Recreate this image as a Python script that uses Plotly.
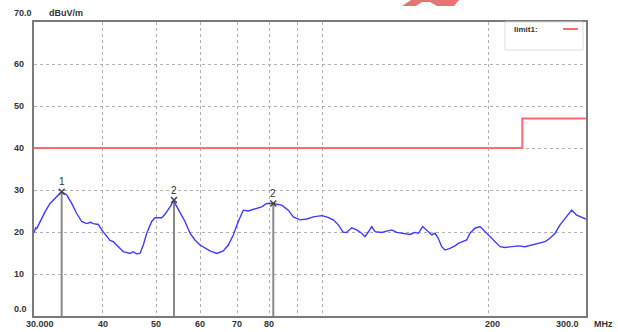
import math
import plotly.graph_objects as go

# ---------------- data ----------------
freq_mhz = [30.00, 30.20, 30.34, 30.76, 31.41, 32.07, 32.75, 33.67, 34.39, 35.11,
            35.85, 36.60, 37.37, 38.00, 38.42, 39.23, 39.79, 40.63, 41.20, 41.76,
            42.64, 43.54, 44.78, 45.40, 46.04, 46.68, 47.33, 48.01, 49.02, 49.70,
            51.11, 51.81, 52.91, 53.80, 54.02, 55.16, 56.32, 57.51, 58.72, 59.96,
            61.22, 62.51, 64.28, 66.08, 67.47, 68.89, 70.34, 71.83, 73.34, 75.42,
            77.56, 79.19, 81.40, 84.30, 86.66, 88.49, 90.99, 93.57, 96.19, 99.61,
            101.71, 104.55, 106.75, 109.01, 110.56, 112.89, 115.27, 117.70, 119.33, 120.98,
            122.71, 124.41, 127.94, 130.64, 133.39, 136.21, 140.01, 143.98, 147.01, 149.05,
            151.81, 154.36, 157.61, 159.80, 162.01, 164.33, 166.61, 170.12, 173.71, 176.12,
            178.63, 182.39, 184.92, 188.81, 192.79, 196.86, 201.01, 205.25, 209.57, 213.99,
            220.06, 226.20, 232.61, 239.20, 245.88, 252.85, 258.18, 263.62, 269.18, 274.85,
            282.65, 288.60, 294.69, 300.00]
level_dbuv = [19.8, 21.0, 20.8, 22.5, 24.8, 26.8, 28.0, 29.6, 28.8, 26.8,
              24.4, 22.5, 22.0, 22.3, 22.0, 21.8, 20.5, 18.9, 18.0, 17.7,
              16.5, 15.3, 14.9, 15.3, 14.8, 14.9, 16.9, 19.7, 22.5, 23.4,
              23.4, 24.2, 26.0, 27.6, 26.8, 24.8, 22.5, 19.7, 18.1, 16.9,
              16.1, 15.5, 14.9, 15.5, 16.9, 19.3, 22.5, 25.2, 25.0, 25.5,
              26.0, 26.8, 26.8, 26.4, 25.2, 23.6, 22.9, 23.1, 23.6, 23.9,
              23.6, 22.9, 21.7, 19.9, 19.9, 21.0, 20.5, 19.7, 18.9, 20.0,
              21.3, 20.1, 19.9, 20.2, 20.5, 19.9, 19.7, 19.4, 19.9, 19.7,
              21.3, 20.5, 19.3, 19.7, 18.5, 16.5, 15.7, 16.1, 16.7, 17.3,
              17.7, 18.1, 19.7, 20.9, 21.3, 20.1, 18.9, 17.7, 16.5, 16.3,
              16.5, 16.7, 16.5, 16.9, 17.3, 17.7, 18.5, 19.7, 21.7, 23.3,
              25.2, 24.0, 23.6, 23.1]

limit_freq = [30, 230, 230, 300]
limit_level = [40, 40, 47, 47]

marker_freq = [33.67, 53.80, 81.40]
marker_level = [29.6, 27.6, 26.8]
marker_labels = ["1", "2", "2"]

x_grid_vals = [40, 50, 60, 70, 80, 90, 100, 200]
x_label_vals = [30, 40, 50, 60, 70, 80, 200, 300]
x_label_text = ["30.000", "40", "50", "60", "70", "80", "200", "300.0"]
y_label_vals = [0, 10, 20, 30, 40, 50, 60, 70]
y_label_text = ["0.0", "10", "20", "30", "40", "50", "60", "70.0"]

# ---------------- layout geometry ----------------
W, H = 618, 332
L, R, T, B = 34, 32, 22, 16
PW, PH = W - L - R, H - T - B


def px2paper(px, py):
    return (px - L) / PW, (H - B - py) / PH


FONT = dict(family="Liberation Sans, Arial, sans-serif", size=9, color="#333333")

fig = go.Figure()

# limit line
fig.add_trace(go.Scatter(x=limit_freq, y=limit_level, mode="lines",
                         line=dict(color="#ff6b6b", width=2), hoverinfo="skip",
                         showlegend=False))

# marker verticals
for f, v in zip(marker_freq, marker_level):
    fig.add_trace(go.Scatter(x=[f, f], y=[0, v], mode="lines",
                             line=dict(color="#8a8a8a", width=2),
                             hoverinfo="skip", showlegend=False))

# measurement trace
fig.add_trace(go.Scatter(x=freq_mhz, y=level_dbuv, mode="lines",
                         line=dict(color="#3c3cff", width=1.4),
                         showlegend=False))

# marker crosses
fig.add_trace(go.Scatter(x=marker_freq, y=marker_level, mode="markers",
                         marker=dict(symbol="x-thin", size=6,
                                     line=dict(color="#444444", width=1.5)),
                         showlegend=False, hoverinfo="skip"))

ann = []
# marker numbers
for f, v, t in zip(marker_freq, marker_level, marker_labels):
    ann.append(dict(x=math.log10(f), y=v, xref="x", yref="y", text=t,
                    showarrow=False, yshift=10, font=dict(FONT, size=10)))

# y labels
for v, t in zip(y_label_vals, y_label_text):
    ys = 0
    if v == 70:
        ys = 9
    if v == 0:
        ys = 7
    ann.append(dict(x=px2paper(12, 0)[0], y=v, xref="paper", yref="y",
                    text="<b>" + t + "</b>", showarrow=False, xanchor="left",
                    yanchor="middle", yshift=ys, font=FONT))
ann.append(dict(x=px2paper(47, 0)[0], y=70, xref="paper", yref="y",
                text="<b>dBuV/m</b>", showarrow=False, xanchor="left",
                yanchor="middle", yshift=9, font=FONT))

# x labels
for v, t in zip(x_label_vals, x_label_text):
    xs, xa = 0, "center"
    if v == 30:
        xs = 6
    if v == 200:
        xs = 4
    if v == 300:
        xs, xa = -5, "right"
    ann.append(dict(x=math.log10(v), y=0, xref="x", yref="paper",
                    text="<b>" + t + "</b>", showarrow=False, xanchor=xa,
                    yanchor="middle", xshift=xs, yshift=-8, font=FONT))
ann.append(dict(x=math.log10(300), y=0, xref="x", yref="paper",
                text="<b>MHz</b>", showarrow=False, xanchor="left",
                yanchor="middle", xshift=6, yshift=-8, font=FONT))

# legend text
lx, ly = px2paper(512, 29)
ann.append(dict(x=lx, y=ly, xref="paper", yref="paper", text="<b>limit1:</b>",
                showarrow=False, xanchor="left", yanchor="middle",
                font=dict(FONT, size=8)))

shapes = []
bx0, by0 = px2paper(505, 50)
bx1, by1 = px2paper(583, 22)
shapes.append(dict(type="rect", xref="paper", yref="paper", x0=bx0, y0=by0,
                   x1=bx1, y1=by1, line=dict(color="#dddddd", width=1),
                   fillcolor="white", layer="above"))
sx0, sy = px2paper(563, 29)
sx1, _ = px2paper(578, 29)
shapes.append(dict(type="line", xref="paper", yref="paper", x0=sx0, y0=sy,
                   x1=sx1, y1=sy, line=dict(color="#ff6b6b", width=2),
                   layer="above"))

# partial red logo at the top
pts = [(402, 6), (411, 0), (459, 0), (454, 6), (437, 6), (430, 2), (422, 2), (416, 6)]
path = ""
for i, (a, b) in enumerate(pts):
    px_, py_ = px2paper(a, b)
    path += ("M" if i == 0 else "L") + f"{px_:.5f},{py_:.5f} "
path += "Z"
shapes.append(dict(type="path", xref="paper", yref="paper", path=path,
                   fillcolor="rgba(222,70,70,0.75)", line=dict(width=0)))

grid = dict(showgrid=True, gridcolor="#b0b0b0", gridwidth=1, griddash="dot")

fig.update_layout(
    width=W, height=H,
    margin=dict(l=L, r=R, t=T, b=B),
    paper_bgcolor="white", plot_bgcolor="white",
    showlegend=False,
    xaxis=dict(type="log", range=[math.log10(30), math.log10(300)],
               tickvals=x_grid_vals, showticklabels=False, ticks="",
               showline=True, linecolor="#7a7a7a", linewidth=2, mirror=True,
               zeroline=False, **grid),
    yaxis=dict(range=[0, 70], tickvals=[10, 20, 30, 40, 50, 60],
               showticklabels=False, ticks="", showline=True,
               linecolor="#7a7a7a", linewidth=2, mirror=True,
               zeroline=False, **grid),
    annotations=ann,
    shapes=shapes,
)

fig.write_html(
    "out.html",
    config={"displayModeBar": False},
    post_script="document.body.style.margin='0px';document.body.style.overflow='hidden';",
)
